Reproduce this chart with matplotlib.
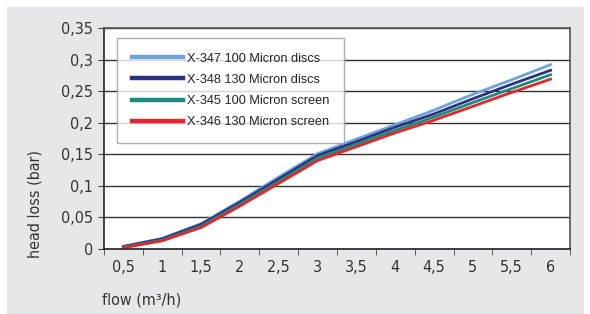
import matplotlib
matplotlib.use('Agg')
import matplotlib.pyplot as plt
from matplotlib.patches import Rectangle

flow = ['0,5', '1', '1,5', '2', '2,5', '3', '3,5', '4', '4,5', '5', '5,5', '6']

x347 = [0.004, 0.017, 0.040, 0.076, 0.114, 0.151, 0.174, 0.197, 0.220, 0.245, 0.268, 0.292]
x348 = [0.004, 0.016, 0.039, 0.074, 0.111, 0.148, 0.170, 0.193, 0.214, 0.238, 0.261, 0.283]
x345 = [0.003, 0.014, 0.036, 0.071, 0.107, 0.144, 0.166, 0.188, 0.209, 0.232, 0.254, 0.276]
x346 = [0.002, 0.013, 0.034, 0.068, 0.104, 0.140, 0.162, 0.184, 0.204, 0.226, 0.248, 0.269]

names = ['X-347 100 Micron discs', 'X-348 130 Micron discs',
         'X-345 100 Micron screen', 'X-346 130 Micron screen']
colors = ['#6fa3dc', '#2c3282', '#1d8a80', '#e4262a']

cond = dict(fontfamily=['DejaVu Sans'], fontstretch='condensed')

fig = plt.figure(figsize=(5.9, 3.14), dpi=100)
fig.patch.set_facecolor('white')
# grey panel behind the chart
fig.patches.append(Rectangle((7 / 590, 0), 577 / 590, 307 / 314,
                             transform=fig.transFigure, facecolor='#e6e7e9',
                             edgecolor='none', zorder=-10))

ax = fig.add_axes([104 / 590, 1 - 249 / 314, 466 / 590, 221 / 314])
ax.set_zorder(5)
ax.set_facecolor('white')

xs = range(len(flow))
for vals, c, n in zip([x347, x348, x345, x346], colors, names):
    ax.plot(xs, vals, color=c, lw=2, label=n)

ax.set_xlim(-0.5, len(flow) - 0.5)
ax.set_ylim(0, 0.35)
ax.set_yticks([i * 0.05 for i in range(8)])
ax.set_yticklabels(['0', '0,05', '0,1', '0,15', '0,2', '0,25', '0,3', '0,35'],
                   fontsize=11.5, color='#333333', **cond)
ax.set_xticks(list(xs))
ax.set_xticklabels(flow, fontsize=11.5, color='#333333', **cond)
ax.tick_params(axis='x', length=0, pad=8)
ax.set_xticks([i - 0.5 for i in range(len(flow) + 1)], minor=True)
ax.tick_params(axis='x', which='minor', length=4, color='#444444')
ax.tick_params(axis='y', length=4, color='#444444', pad=4)
ax.grid(axis='y', color='#333333', lw=1)
ax.set_axisbelow(True)

for s in ['left', 'bottom']:
    ax.spines[s].set_color('#222222')
    ax.spines[s].set_linewidth(1.2)
for s in ['right', 'top']:
    ax.spines[s].set_color('#555555')
    ax.spines[s].set_linewidth(1.2)

ax.set_ylabel('head loss (bar)', fontsize=11.5, color='#333333', **cond)
ax.yaxis.set_label_coords(-0.131, 0.205)
fig.text(142 / 590, 1 - 300 / 314, 'flow (m³/h)', fontsize=11.5,
         color='#333333', ha='center', va='center', **cond)

leg = ax.legend(loc='upper left', bbox_to_anchor=(13 / 466, 1 - 10 / 221),
                frameon=True, fancybox=False, edgecolor='#999999',
                fontsize=9.2, handlelength=4.0, handletextpad=0.3,
                labelspacing=0.72, borderpad=1.15, borderaxespad=0)
leg.get_frame().set_linewidth(1)
for line in leg.get_lines():
    line.set_linewidth(3.2)
for t in leg.get_texts():
    t.set_fontfamily(['Liberation Sans', 'DejaVu Sans'])
    t.set_color('#222222')

fig.savefig('out.png', dpi=100)
